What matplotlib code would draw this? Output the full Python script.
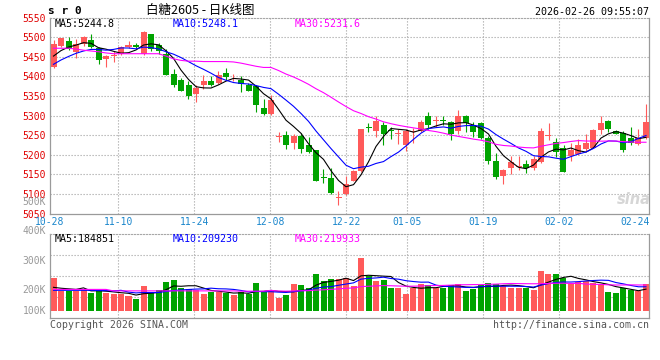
"""白糖2605 日K线图 (sina 风格): 上面 K 线 + MA5/10/30，下面成交量 + 均量线。"""
import matplotlib
matplotlib.use("Agg")
import matplotlib.pyplot as plt
import numpy as np
import pandas as pd

OUT_FIG = "out.png"
W, H, DPI = 660, 360, 100

# ---- data --------------------------------------------------------------
open_ = [5423, 5479, 5491, 5462, 5482, 5493, 5472, 5444, 5452, 5457,
         5475, 5480, 5457, 5508, 5480, 5457, 5406, 5391, 5377, 5355,
         5379, 5389, 5382, 5408, 5405, 5392, 5377, 5375, 5320, 5303,
         5246, 5250, 5230, 5248, 5226, 5211, 5142, 5140, 5089, 5101,
         5133, 5159, 5271, 5260, 5277, 5262, 5253, 5225, 5257, 5260,
         5300, 5287, 5289, 5284, 5260, 5300, 5277, 5280, 5242, 5184,
         5146, 5165, 5170, 5177, 5167, 5182, 5247, 5232, 5216, 5197,
         5203, 5214, 5218, 5262, 5287, 5260, 5256, 5242, 5228, 5242]
high = [5493, 5499, 5500, 5496, 5503, 5508, 5475, 5455, 5465, 5479,
        5491, 5486, 5517, 5509, 5486, 5469, 5420, 5397, 5388, 5379,
        5403, 5402, 5414, 5421, 5407, 5402, 5383, 5379, 5343, 5353,
        5257, 5260, 5252, 5256, 5245, 5212, 5163, 5166, 5108, 5146,
        5160, 5267, 5281, 5298, 5284, 5272, 5266, 5265, 5269, 5290,
        5309, 5300, 5300, 5286, 5315, 5301, 5284, 5284, 5249, 5205,
        5163, 5197, 5197, 5187, 5197, 5269, 5282, 5243, 5226, 5231,
        5239, 5252, 5265, 5298, 5290, 5264, 5260, 5272, 5265, 5330]
low = [5421, 5476, 5467, 5448, 5478, 5472, 5433, 5425, 5436, 5455,
       5472, 5472, 5455, 5465, 5458, 5404, 5374, 5362, 5342, 5336,
       5369, 5376, 5381, 5392, 5388, 5360, 5362, 5309, 5301, 5302,
       5233, 5214, 5214, 5205, 5205, 5132, 5129, 5099, 5072, 5098,
       5132, 5157, 5259, 5245, 5225, 5241, 5228, 5209, 5231, 5258,
       5265, 5270, 5275, 5237, 5254, 5259, 5245, 5239, 5176, 5137,
       5125, 5152, 5160, 5154, 5160, 5180, 5237, 5194, 5156, 5184,
       5199, 5209, 5216, 5252, 5259, 5252, 5207, 5225, 5225, 5240]
close = [5482, 5497, 5470, 5482, 5500, 5474, 5441, 5451, 5455, 5476,
         5480, 5476, 5514, 5470, 5464, 5404, 5379, 5364, 5351, 5371,
         5389, 5377, 5404, 5399, 5406, 5381, 5364, 5326, 5303, 5339,
         5248, 5225, 5247, 5215, 5206, 5133, 5140, 5102, 5091, 5126,
         5159, 5265, 5269, 5287, 5254, 5260, 5255, 5260, 5259, 5283,
         5277, 5289, 5287, 5254, 5300, 5280, 5258, 5243, 5184, 5143,
         5160, 5181, 5172, 5167, 5188, 5260, 5249, 5208, 5157, 5212,
         5226, 5231, 5263, 5281, 5267, 5254, 5211, 5231, 5243, 5283]
# volume in thousands of lots
volume_k = [242, 198, 198, 198, 200, 191, 200, 191, 186, 186,
            181, 170, 214, 194, 200, 227, 234, 208, 203, 200,
            188, 194, 194, 189, 183, 192, 186, 224, 192, 200,
            174, 183, 220, 217, 208, 254, 230, 237, 237, 242,
            214, 310, 247, 230, 234, 208, 208, 186, 208, 220,
            217, 208, 208, 217, 220, 197, 203, 217, 224, 220,
            214, 208, 208, 208, 200, 264, 254, 254, 241, 220,
            227, 230, 224, 220, 193, 190, 208, 200, 197, 220]

# MA values before enough history exists inside the window
ma5_head = [5452, 5466, 5475, 5480]
ma10_head = [5431, 5442, 5451, 5459, 5465, 5469, 5469, 5467, 5469]
ma30_head = [5472, 5472, 5472, 5470, 5467, 5465, 5463, 5460, 5458, 5458,
             5458, 5458, 5458, 5458, 5458, 5452, 5445, 5441, 5439, 5439,
             5438, 5438, 5438, 5438, 5437, 5434, 5430, 5426, 5423]
vma5_head = [209, 206, 204, 202]
vma10_head = [199, 199, 199, 199, 199, 199, 198, 198, 197]
vma30_head = [202] * 8 + [197] * 17 + [196] * 4

date_idx = [0, 9, 19, 29, 39, 47, 57, 67, 77]
date_txt = ["10-28", "11-10", "11-24", "12-08", "12-22",
            "01-05", "01-19", "02-02", "02-24"]
price_ticks = [5050, 5100, 5150, 5200, 5250, 5300, 5350, 5400, 5450, 5500, 5550]
vol_ticks = [500, 400, 300, 200, 100]

price_ma_txt = ["MA5:5244.8", "MA10:5248.1", "MA30:5231.6"]
vol_ma_txt = ["MA5:184851", "MA10:209230", "MA30:219933"]

# ---- style ---------------------------------------------------------------
RED = "#ff5a5a"
GREEN = "#00a300"
MA_COLORS = ["#000000", "#0000ff", "#ff00ff"]
GRID = "#a8a8a8"
FRAME = "#9a9a9a"
DOTS = (0, (1.1, 1.6))
MONO = ["DejaVu Sans Mono", "Noto Sans CJK SC"]
CJK = ["Noto Sans CJK SC", "DejaVu Sans"]

# sina 的 K 线间距 7.5px，网格线按 7.6px 排，两者故意分开算
PITCH, FIRST = 7.5, 53.5
GRID_PITCH, GRID_X0 = 7.6, 50.0
LEFT, RIGHT = 50, 649
P_TOP, P_BOT = 17.7, 213.5
V_TOP, V_BOT = 234.3, 317.7
VOL_BASE = 129       # bars start here (sina clips the lower part)
VOL_YLIM = (106, 389)


def moving_avg(values, n, head):
    s = pd.Series(values, dtype=float).rolling(n).mean()
    s.iloc[:n - 1] = head
    return s.to_numpy()


def px_x(px):
    return (px - FIRST) / PITCH


def fig_xy(x, y):
    return x / W, 1 - y / H


def style_frame(ax):
    for side in ("left", "right", "bottom"):
        ax.spines[side].set_color(FRAME)
        ax.spines[side].set_linewidth(0.9)
    ax.spines["top"].set_color(GRID)
    ax.spines["top"].set_linestyle(DOTS)
    ax.spines["top"].set_linewidth(0.8)
    ax.set_xlim(px_x(LEFT), px_x(RIGHT))
    ax.set_xticks([])
    for i in date_idx[1:-1]:
        ax.axvline(px_x(GRID_X0 + GRID_PITCH * i), color=GRID,
                   lw=0.8, ls=DOTS, zorder=0)


def main():
    plt.rcParams["font.family"] = MONO
    o = np.array(open_, float)
    c = np.array(close, float)
    hi = np.array(high, float)
    lo = np.array(low, float)
    vol = np.array(volume_k, float)
    x = np.arange(len(c))
    colors = np.where(c >= o, RED, GREEN)

    fig = plt.figure(figsize=(W / DPI, H / DPI), dpi=DPI)
    ax = fig.add_axes([LEFT / W, 1 - P_BOT / H, (RIGHT - LEFT) / W,
                       (P_BOT - P_TOP) / H])
    axv = fig.add_axes([LEFT / W, 1 - V_BOT / H, (RIGHT - LEFT) / W,
                        (V_BOT - V_TOP) / H])

    # ---- price panel
    style_frame(ax)
    ax.set_ylim(price_ticks[0], price_ticks[-1])
    for p in price_ticks[1:-1]:
        ax.axhline(p, color=GRID, lw=0.8, ls=DOTS, zorder=0)
    ax.set_yticks(price_ticks)
    ax.set_yticklabels([str(p) for p in price_ticks])
    ax.tick_params(axis="y", length=0, pad=3, labelsize=7, labelcolor="#e00000")

    ax.vlines(x, lo, hi, colors=colors, lw=0.8, zorder=2)
    body_lo = np.minimum(o, c)
    body_h = np.maximum(np.abs(c - o), 2.4)
    ax.bar(x, body_h, bottom=body_lo, width=0.8, color=colors,
           linewidth=0, zorder=3)

    for n, head, col in zip((5, 10, 30), (ma5_head, ma10_head, ma30_head),
                            MA_COLORS):
        ax.plot(x, moving_avg(c, n, head), color=col, lw=0.8, zorder=4)

    for xp, txt, col in zip((55, 173, 295), price_ma_txt, MA_COLORS):
        fig.text(*fig_xy(xp, 24), txt, color=col, fontsize=7.2,
                 ha="left", va="center")

    ytr = ax.get_xaxis_transform()
    for i, txt in zip(date_idx, date_txt):
        ax.text(px_x(GRID_X0 + GRID_PITCH * i), -0.043, txt, transform=ytr,
                ha="center", va="center", fontsize=7, color="#1a86cc",
                clip_on=False)

    # 右下角 sina 水印
    fig.text(*fig_xy(651, 199), "sina", color="#d6d6d6", fontsize=10.5,
             fontweight="bold", style="italic", ha="right", va="center",
             family="DejaVu Sans")

    # ---- volume panel
    style_frame(axv)
    axv.set_ylim(*VOL_YLIM)
    axv.set_yticks([])
    for f in (0.25, 0.5, 0.75):
        axv.plot([0, 1], [f, f], transform=axv.transAxes, color=GRID,
                 lw=0.8, ls=DOTS, zorder=0)
    axv.bar(x, vol - VOL_BASE, bottom=VOL_BASE, width=0.8, color=colors,
            linewidth=0, zorder=2)
    for n, head, col in zip((5, 10, 30), (vma5_head, vma10_head, vma30_head),
                            MA_COLORS):
        axv.plot(x, moving_avg(vol, n, head), color=col, lw=0.8, zorder=3)

    vtr = axv.get_yaxis_transform()
    for v in vol_ticks:
        axv.text(-4 / (RIGHT - LEFT), max(v, VOL_BASE), f"{v}K",
                 transform=vtr, ha="right", va="center", fontsize=7,
                 color="#999999", clip_on=False)
    for xp, txt, col in zip((55, 173, 295), vol_ma_txt, MA_COLORS):
        fig.text(*fig_xy(xp, 239), txt, color=col, fontsize=7.2,
                 ha="left", va="center")

    # ---- header / footer
    fig.text(*fig_xy(48, 11), "s r 0", fontsize=8, fontweight="bold",
             ha="left", va="center")
    fig.text(*fig_xy(200, 10.5), "白糖2605 - 日K线图", fontsize=9,
             family=CJK, ha="center", va="center")
    fig.text(*fig_xy(649, 12), "2026-02-26 09:55:07", fontsize=7.2,
             ha="right", va="center")
    fig.text(*fig_xy(50, 325), "Copyright 2026 SINA.COM", fontsize=7.1,
             color="#555555", ha="left", va="center")
    fig.text(*fig_xy(649, 325), "http://finance.sina.com.cn", fontsize=7.1,
             color="#555555", ha="right", va="center")

    fig.savefig(OUT_FIG, dpi=DPI, facecolor="white")
    plt.close(fig)
    print("MA30 last:", moving_avg(c, 30, ma30_head)[-1])


if __name__ == "__main__":
    main()
